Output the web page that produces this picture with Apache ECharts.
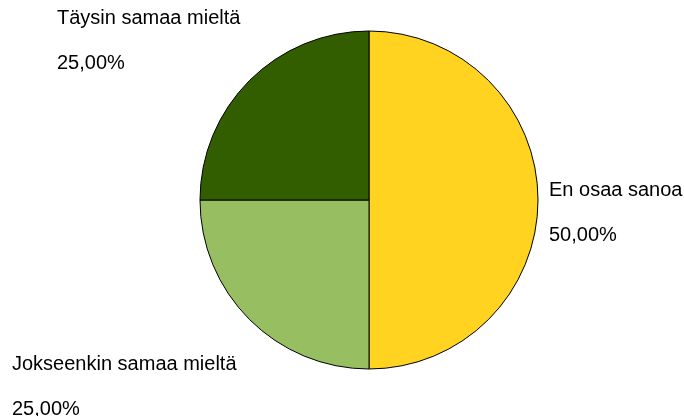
<!DOCTYPE html>
<html>
<head>
<meta charset="utf-8">
<script src="https://cdn.jsdelivr.net/npm/echarts@6/dist/echarts.min.js"></script>
<style>html,body{margin:0;padding:0;background:#fff}#c{width:684px;height:416px}</style>
</head>
<body>
<div id="c"></div>
<script>
var categories = ['En osaa sanoa', 'Jokseenkin samaa mieltä', 'Täysin samaa mieltä'];
var values = [50, 25, 25];
var colors = ['#FFD320', '#97BF62', '#335E00'];

var labelPos = [
  { x: 549, y: 179 },
  { x: 12, y: 353 },
  { x: 57, y: 7 }
];

var chart = echarts.init(document.getElementById('c'), null, { renderer: 'canvas' });
chart.setOption({
  animation: false,
  backgroundColor: '#fff',
  series: [{
    type: 'pie',
    center: [369, 200],
    radius: 169,
    startAngle: 90,
    clockwise: true,
    data: categories.map(function (c, i) {
      return { name: c, value: values[i], itemStyle: { color: colors[i] } };
    }),
    itemStyle: { borderColor: '#000', borderWidth: 1 },
    emphasis: { disabled: true },
    labelLine: { show: false },
    label: {
      show: true,
      position: 'outside',
      fontFamily: 'Liberation Sans, Arial, sans-serif',
      fontSize: 20,
      color: '#000',
      lineHeight: 22.5,
      overflow: 'none',
      width: 400,
      formatter: function (p) {
        return p.name + '\n\n' + p.percent.toFixed(2).replace('.', ',') + '%';
      }
    },
    labelLayout: function (p) {
      var pos = labelPos[p.dataIndex];
      return { x: pos.x, y: pos.y, align: 'left', verticalAlign: 'top', hideOverlap: false };
    }
  }]
});
</script>
</body>
</html>
